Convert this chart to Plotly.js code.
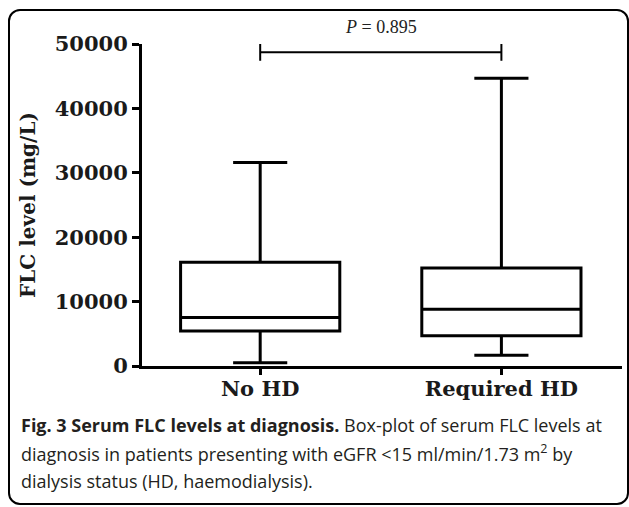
<!DOCTYPE html>
<html>
<head>
<meta charset="utf-8">
<script src="https://cdn.plot.ly/plotly-3.0.1.min.js"></script>
<style>
  html, body { margin: 0; padding: 0; background: #fff; }
  #wrap { position: relative; width: 629px; height: 507px; }
  #chart { width: 629px; height: 507px; }
  #frame { position: absolute; left: 8px; top: 9px; width: 621px; height: 496px;
           box-sizing: border-box; border: 2.5px solid #000; border-radius: 12px;
           pointer-events: none; }
</style>
</head>
<body>
<div id="wrap">
  <div id="chart"></div>
  <div id="frame"></div>
</div>
<script>
// Data
const categories = ['No HD', 'Required HD'];
const lowerWhisker = [500, 1650];
const q1Values = [5450, 4700];
const medianValues = [7550, 8800];
const q3Values = [16100, 15200];
const upperWhisker = [31600, 44700];
const bracketY = [48700, 48700];
const pLabel = '<i>P</i> = 0.895';
const yTicks = [0, 10000, 20000, 30000, 40000, 50000];
const captionLines = [
  '<b>Fig. 3 Serum FLC levels at diagnosis.</b> Box-plot of serum FLC levels at',
  'diagnosis in patients presenting with eGFR &lt;15 ml/min/1.73 m<sup>2</sup> by',
  'dialysis status (HD, haemodialysis).'
];

const serif = 'DejaVu Serif, serif';

const traces = [
  {
    type: 'box',
    x: categories,
    q1: q1Values,
    median: medianValues,
    q3: q3Values,
    lowerfence: lowerWhisker,
    upperfence: upperWhisker,
    width: 0.66,
    whiskerwidth: 0.34,
    fillcolor: 'rgba(255,255,255,0)',
    line: { color: '#000', width: 3 },
    boxpoints: false,
    hoverinfo: 'skip',
    showlegend: false
  },
  {
    type: 'scatter',
    mode: 'lines+markers',
    x: categories,
    y: bracketY,
    line: { color: '#000', width: 2 },
    marker: { symbol: 'line-ns-open', size: 12, color: '#000', line: { color: '#000', width: 2 } },
    hoverinfo: 'skip',
    showlegend: false,
    cliponaxis: false
  }
];

const annotations = [
  {
    xref: 'x', yref: 'paper', x: 0.5, y: 1, yanchor: 'bottom', yshift: 5,
    text: pLabel, showarrow: false,
    font: { family: 'Liberation Serif, serif', size: 18, color: '#222' }
  }
];
const captionY = [-0.183, -0.27, -0.357];
captionLines.forEach((t, i) => {
  annotations.push({
    xref: 'paper', yref: 'paper', x: -0.256, y: captionY[i],
    xanchor: 'left', yanchor: 'middle', align: 'left',
    text: t, showarrow: false,
    font: { family: 'Open Sans, sans-serif', size: 18, color: '#231f20' }
  });
});

const layout = {
  width: 629, height: 507,
  margin: { l: 142, r: 7, t: 44, b: 141 },
  paper_bgcolor: '#fff', plot_bgcolor: '#fff',
  showlegend: false,
  xaxis: {
    type: 'category',
    range: [-0.49, 1.5],
    showline: true, linecolor: '#000', linewidth: 3,
    ticks: 'outside', ticklen: 6, tickwidth: 3, tickcolor: '#000',
    ticklabelstandoff: -4,
    showgrid: false, zeroline: false,
    tickfont: { family: serif, size: 21, color: '#1a1a1a', weight: 'bold' }
  },
  yaxis: {
    range: [0, 50000],
    tickvals: yTicks,
    ticktext: yTicks.map(String),
    showline: true, linecolor: '#000', linewidth: 3,
    ticks: 'outside', ticklen: 7, tickwidth: 3, tickcolor: '#000',
    showgrid: false, zeroline: false,
    tickfont: { family: serif, size: 21, color: '#1a1a1a', weight: 'bold' },
    title: { text: 'FLC level (mg/L)', standoff: 14,
             font: { family: serif, size: 20, color: '#1a1a1a', weight: 'bold' } }
  },
  annotations: annotations
};

Plotly.newPlot('chart', traces, layout, { displayModeBar: false, staticPlot: true });
</script>
</body>
</html>
